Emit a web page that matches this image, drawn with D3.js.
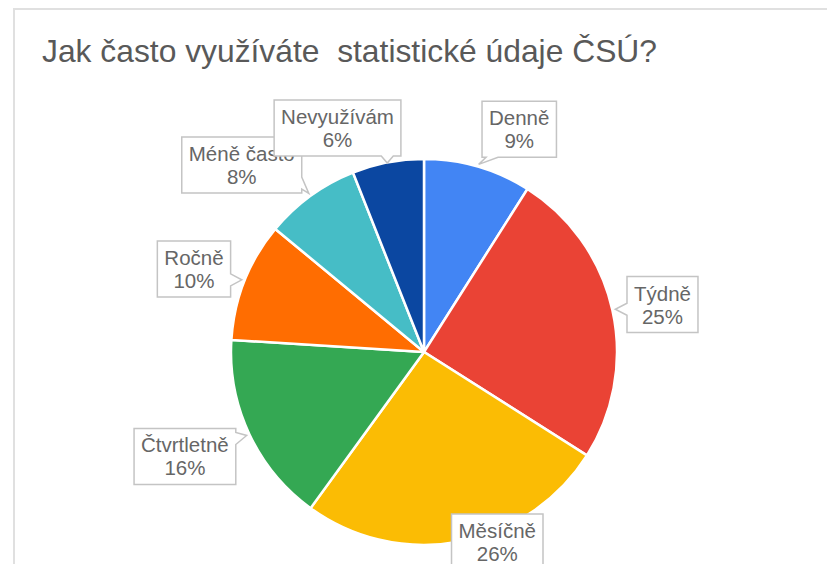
<!DOCTYPE html>
<html lang="cs">
<head>
<meta charset="UTF-8">
<title>Jak často využíváte statistické údaje ČSÚ?</title>
<script src="https://d3js.org/d3.v7.min.js"></script>
<style>
    body { margin: 0; background: #fff; overflow: hidden; }
    svg { display: block; font-family: "Liberation Sans", Arial, sans-serif; }
    .title { font-size: 31.8px; fill: #595959; white-space: pre; }
    .callout { fill: #fff; stroke: #c4c4c4; stroke-width: 1.5px; }
    .callout-text { font-size: 20.5px; fill: #666; text-anchor: middle; }
</style>
</head>
<body>
<div id="chart"></div>
<script>
// data
const title = "Jak často využíváte  statistické údaje ČSÚ?";
const categories = ["Denně", "Týdně", "Měsíčně", "Čtvrtletně", "Ročně", "Méně často", "Nevyužívám"];
const values = [9, 25, 26, 16, 10, 8, 6];
const colors = ["#4285F4", "#EA4335", "#FBBC04", "#34A853", "#FF6D01", "#46BDC6", "#0B47A1"];

const width = 827, height = 564;
const cx = 424, cy = 352, radius = 193;
const labelTop = 100, labelBottom = 570;   // area the callouts may use

const svg = d3.select("#chart").append("svg")
    .attr("width", width)
    .attr("height", height);

// card frame
svg.append("rect")
    .attr("x", 14).attr("y", 9)
    .attr("width", width + 20).attr("height", height + 20)
    .attr("fill", "#fff")
    .attr("stroke", "#e0e0e0")
    .attr("stroke-width", 2);

svg.append("text")
    .attr("class", "title")
    .attr("x", 42)
    .attr("y", 62)
    .text(title);

const data = categories.map((c, i) => ({ name: c, value: values[i], color: colors[i] }));
const total = d3.sum(values);
const pct = d3.format(".0%");

const pie = d3.pie().sort(null).value(d => d.value);
const arc = d3.arc().innerRadius(0).outerRadius(radius);
const arcs = pie(data);

const g = svg.append("g").attr("transform", `translate(${cx},${cy})`);
g.selectAll("path.slice")
    .data(arcs)
    .join("path")
    .attr("class", "slice")
    .attr("d", arc)
    .attr("fill", d => d.data.color)
    .attr("stroke", "#fff")
    .attr("stroke-width", 2.5);

// callout labels
const labels = svg.append("g");
const clamp = (v, a, b) => Math.max(a, Math.min(b, v));

arcs.forEach(a => {
    const mid = (a.startAngle + a.endAngle) / 2;
    const dx = Math.sin(mid), dy = -Math.cos(mid);
    let tx = cx + (radius + 3) * dx;
    let ty = cy + (radius + 3) * dy;

    const lg = labels.append("g");
    const box = lg.append("path").attr("class", "callout");
    const t1 = lg.append("text").attr("class", "callout-text").text(a.data.name);
    const t2 = lg.append("text").attr("class", "callout-text").text(pct(a.data.value / total));
    const tw = Math.max(t1.node().getComputedTextLength(), t2.node().getComputedTextLength());

    const w = tw + 14, h = 56;
    let bx = tx + clamp(4 * dx, -1, 1) * w / 2 + dx * 12;
    let by = ty + dy * (h / 2 + 12) + 4;
    by = clamp(by, labelTop + h / 2, labelBottom - h / 2);

    const x0 = bx - w / 2, x1 = bx + w / 2, y0 = by - h / 2, y1 = by + h / 2;
    t1.attr("x", bx).attr("y", y0 + 24);
    t2.attr("x", bx).attr("y", y0 + 47);

    // which edge does the pointer leave from
    const ex = { left: x0 - tx, right: tx - x1, top: y0 - ty, bottom: ty - y1 };
    const side = Object.keys(ex).reduce((m, k) => ex[k] > ex[m] ? k : m, "left");
    const hw = 6, minLen = 7;
    let p;
    if (ex[side] <= 0) {
        p = `M${x0},${y0}H${x1}V${y1}H${x0}Z`;
    } else if (side === "bottom") {
        const b = clamp(tx, x0 + 4 + hw, x1 - 4 - hw);
        ty = Math.max(ty, y1 + minLen);
        p = `M${x0},${y0}H${x1}V${y1}H${b + hw}L${tx},${ty}L${b - hw},${y1}H${x0}Z`;
    } else if (side === "top") {
        const b = clamp(tx, x0 + 4 + hw, x1 - 4 - hw);
        ty = Math.min(ty, y0 - minLen);
        p = `M${x0},${y0}H${b - hw}L${tx},${ty}L${b + hw},${y0}H${x1}V${y1}H${x0}Z`;
    } else if (side === "right") {
        const b = clamp(ty, y0 + 4 + hw, y1 - 4 - hw);
        tx = Math.max(tx, x1 + minLen);
        p = `M${x0},${y0}H${x1}V${b - hw}L${tx},${ty}L${x1},${b + hw}V${y1}H${x0}Z`;
    } else {
        const b = clamp(ty, y0 + 4 + hw, y1 - 4 - hw);
        tx = Math.min(tx, x0 - minLen);
        p = `M${x0},${y0}H${x1}V${y1}H${x0}V${b + hw}L${tx},${ty}L${x0},${b - hw}Z`;
    }
    box.attr("d", p);
});
</script>
</body>
</html>
